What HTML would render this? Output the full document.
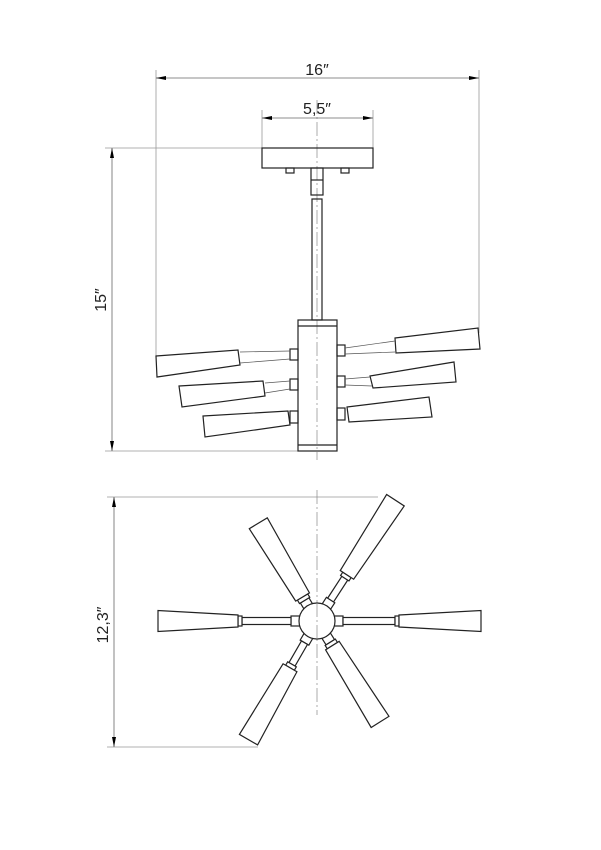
<!DOCTYPE html>
<html><head><style>body{margin:0;background:#fff}svg{display:block}</style></head><body>
<svg width="601" height="850" viewBox="0 0 601 850" xmlns="http://www.w3.org/2000/svg" font-family="Liberation Sans, sans-serif">
<defs>
<marker id="a" viewBox="0 0 10 4" refX="10" refY="2" markerWidth="10" markerHeight="4" orient="auto-start-reverse" markerUnits="userSpaceOnUse"><path d="M0,0L10,2L0,4z" fill="#000"/></marker>
</defs>
<g stroke="#999" stroke-width="0.8" fill="none">
<line x1="156" y1="70" x2="156" y2="358"/>
<line x1="479" y1="70" x2="479" y2="333"/>
<line x1="262" y1="110" x2="262" y2="148"/>
<line x1="373" y1="110" x2="373" y2="148"/>
<line x1="105" y1="148" x2="262" y2="148"/>
<line x1="105" y1="451" x2="300" y2="451"/>
<line x1="107" y1="497" x2="378" y2="497"/>
<line x1="107" y1="747" x2="258" y2="747"/>
</g>
<g stroke="#666" stroke-width="0.8">
<line x1="156" y1="78" x2="479" y2="78" marker-start="url(#a)" marker-end="url(#a)"/>
<line x1="262" y1="118" x2="373" y2="118" marker-start="url(#a)" marker-end="url(#a)"/>
<line x1="112" y1="148" x2="112" y2="451" marker-start="url(#a)" marker-end="url(#a)"/>
<line x1="114" y1="497" x2="114" y2="747" marker-start="url(#a)" marker-end="url(#a)"/>
</g>
<g font-size="16" fill="#222" text-anchor="middle">
<text x="317" y="75">16″</text>
<text x="317" y="114">5,5″</text>
<text transform="translate(106,300) rotate(-90)">15″</text>
<text transform="translate(108,625) rotate(-90)">12,3″</text>
</g>
<g stroke="#888" stroke-width="0.7" stroke-dasharray="14,3,2,3">
<line x1="317" y1="100" x2="317" y2="460"/>
<line x1="317" y1="490" x2="317" y2="715"/>
</g>
<g fill="none" stroke="#222" stroke-width="1.2">
<rect x="262" y="148" width="111" height="20"/>
<rect x="286" y="168" width="8" height="5"/>
<rect x="341" y="168" width="8" height="5"/>
<rect x="311" y="168" width="12" height="27"/>
<line x1="311" y1="180" x2="323" y2="180"/>
<rect x="312" y="199" width="10" height="121"/>
<rect x="298" y="320" width="39" height="131"/>
<line x1="298" y1="326" x2="337" y2="326"/>
<line x1="298" y1="445" x2="337" y2="445"/>
<path d="M156,356 L238,350 L240,365 L157,377 Z"/>
<path d="M179,386 L263,381 L265,396 L182,407 Z"/>
<path d="M203,416 L288,411 L290,425 L205,437 Z"/>
<rect x="290" y="349" width="8" height="11"/>
<rect x="290" y="379" width="8" height="11"/>
<rect x="290" y="411" width="8" height="12"/>
<path d="M395,338 L478,328 L480,349 L396,353 Z"/>
<path d="M370,376 L454,362 L456,382 L373,388 Z"/>
<path d="M347,407 L429,397 L432,417 L349,422 Z"/>
<rect x="337" y="345" width="8" height="11"/>
<rect x="337" y="376" width="8" height="11"/>
<rect x="337" y="408" width="8" height="12"/>
</g>
<g stroke="#555" stroke-width="0.7">
<line x1="240" y1="352" x2="290" y2="351"/><line x1="240" y1="363" x2="290" y2="359"/>
<line x1="265" y1="383" x2="290" y2="381"/><line x1="265" y1="393" x2="290" y2="389"/>
<line x1="345" y1="348" x2="395" y2="341"/><line x1="345" y1="354" x2="395" y2="352"/>
<line x1="345" y1="379" x2="370" y2="377"/><line x1="345" y1="385" x2="372" y2="386"/>
</g>
<g transform="translate(317,621)" fill="#fff" stroke="#222" stroke-width="1.2">
<!-- horizontal right -->
<g>
<rect x="17" y="-5" width="9" height="10"/><rect x="26" y="-3.5" width="52" height="7"/><rect x="78" y="-5" width="4" height="10"/>
<path d="M82,-6 L164,-10.5 L164,10.5 L82,6 Z"/>
</g>
<g transform="rotate(180)">
<rect x="17" y="-5" width="9" height="10"/><rect x="26" y="-3.5" width="49" height="7"/><rect x="75" y="-5" width="4" height="10"/>
<path d="M79,-6 L159,-10.5 L159,10.5 L79,6 Z"/>
</g>
<!-- upper right -->
<g transform="rotate(-57)">
<rect x="17" y="-5" width="8" height="10"/><rect x="25" y="-3.5" width="26" height="7"/><rect x="51" y="-5" width="4" height="10"/>
<path d="M55,-8 L144,-10.5 L144,10.5 L55,8 Z"/>
</g>
<!-- upper left -->
<g transform="rotate(-121)">
<rect x="17" y="-5" width="7" height="10"/><rect x="24" y="-6" width="4" height="12"/>
<path d="M28,-8 L114,-10.5 L114,10.5 L28,8 Z"/>
</g>
<!-- lower left -->
<g transform="rotate(120)">
<rect x="17" y="-5" width="8" height="10"/><rect x="25" y="-3.5" width="25" height="7"/><rect x="50" y="-5" width="4" height="10"/>
<path d="M54,-8 L137,-10.5 L137,10.5 L54,8 Z"/>
</g>
<!-- lower right -->
<g transform="rotate(58)">
<rect x="17" y="-5" width="8" height="10"/><rect x="25" y="-6" width="4" height="12"/>
<path d="M29,-8 L119,-10.5 L119,10.5 L29,8 Z"/>
</g>
<circle r="18"/>
</g>
<line x1="317" y1="603" x2="317" y2="639" stroke="#888" stroke-width="0.7" stroke-dasharray="14,3,2,3"/>
</svg>
</body></html>
